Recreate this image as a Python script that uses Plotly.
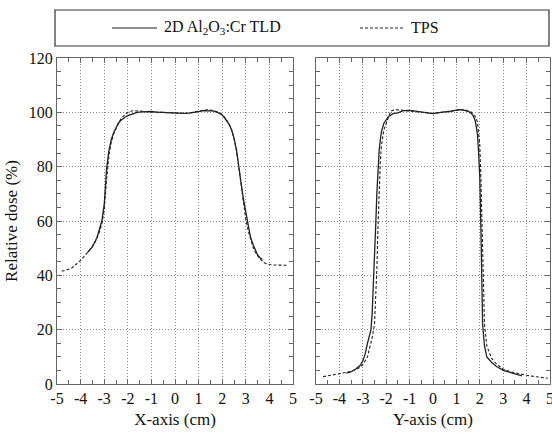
import plotly.graph_objects as go

# ---- data ----
x_tld_x = [-3.7,-3.5,-3.3,-3.1,-3.0,-2.9,-2.8,-2.7,-2.6,-2.5,-2.4,-2.3,-2.2,-2.1,-2.0,-1.8,-1.6,-1.4,-1.2,-1.0,-0.8,-0.6,-0.4,-0.2,0,0.2,0.4,0.6,0.8,1.0,1.2,1.4,1.6,1.8,2.0,2.1,2.2,2.3,2.4,2.5,2.6,2.7,2.8,2.9,3.0,3.1,3.2,3.3,3.4,3.5,3.6,3.7]
dose_tld_x = [48.5,50.5,54,60,66,79,86,90,92.5,94.5,96,97,97.8,98.3,98.8,99.5,100,100.2,100.3,100.3,100.1,100,100,99.9,99.8,99.6,99.6,99.7,99.9,100.3,100.6,100.6,100.5,100,99,98,96.8,95.5,93.5,90.5,86.5,81,74,68,63,58.5,54,51.5,49.5,47.5,46.5,45.8]

x_tps_x = [-4.8,-4.6,-4.4,-4.2,-4.0,-3.8,-3.6,-3.4,-3.2,-3.1,-3.0,-2.9,-2.8,-2.7,-2.6,-2.5,-2.4,-2.3,-2.2,-2.1,-2.0,-1.8,-1.6,-1.4,-1.2,-1.0,-0.8,-0.6,-0.4,-0.2,0,0.2,0.4,0.6,0.8,1.0,1.2,1.4,1.6,1.8,2.0,2.1,2.2,2.3,2.4,2.5,2.6,2.7,2.8,2.9,3.0,3.1,3.2,3.3,3.4,3.6,3.8,4.0,4.2,4.4,4.6,4.8]
dose_tps_x = [41.5,42,42.5,44,45.5,47.5,49.5,52,56,59,64,75,84,89,92,94,96,97.5,98.5,99.3,100,100.6,100.6,100.4,100.3,100.2,100.1,100,99.9,99.8,99.7,99.6,99.6,99.8,100,100.4,100.8,100.9,100.7,100.2,99.3,98.3,97,95.5,93.5,90.5,86,80,73,66,60.5,56.5,53,50.5,48.5,46,44.5,44,43.8,43.7,43.7,43.7]

y_tld_y = [-3.7,-3.5,-3.3,-3.1,-3.0,-2.9,-2.8,-2.7,-2.65,-2.6,-2.55,-2.5,-2.45,-2.4,-2.35,-2.3,-2.25,-2.2,-2.1,-2.0,-1.9,-1.7,-1.5,-1.3,-1.1,-0.9,-0.7,-0.5,-0.3,-0.1,0,0.1,0.3,0.5,0.7,0.9,1.1,1.3,1.5,1.6,1.7,1.8,1.85,1.9,1.95,2.0,2.05,2.08,2.12,2.2,2.3,2.5,2.7,3.0,3.35,3.8]
dose_tld_y = [4,4.5,5.5,7,8.5,11,15,18,20,26,35,45,58,70,80,86,90,93,96,97.5,98.5,99.5,99.8,100.5,100.7,100.6,100.4,100.2,100,99.6,99.5,99.7,100,100.2,100.3,100.6,101,100.8,100.4,99.8,99,97,95,92,85,76,56,40,22,14,10,8,6.5,5,4,3]

y_tps_y = [-4.7,-4.4,-4.1,-3.8,-3.5,-3.2,-3.0,-2.8,-2.7,-2.6,-2.5,-2.45,-2.4,-2.35,-2.3,-2.25,-2.2,-2.1,-2.0,-1.9,-1.8,-1.6,-1.4,-1.2,-1.0,-0.8,-0.6,-0.4,-0.2,0,0.2,0.4,0.6,0.8,1.0,1.2,1.4,1.6,1.7,1.8,1.9,1.95,2.0,2.05,2.1,2.15,2.2,2.3,2.5,2.7,3.0,3.3,3.7,4.0,4.4,4.9]
dose_tps_y = [2.7,3.2,3.6,4,4.6,5.7,7,10,13,17,22,30,42,58,72,82,88,93.5,96,98.5,100.5,101,100.8,100.6,100.4,100.3,100.2,100,99.8,99.6,99.8,100,100.2,100.4,100.7,101,100.8,100.3,99.5,98.5,96.5,93,88,75,55,35,22,14,9.5,7.5,5.5,4.5,3.6,3.2,2.7,2.1]

x_ticks = [-5,-4,-3,-2,-1,0,1,2,3,4,5]
y_ticks = [0,20,40,60,80,100,120]
legend_names = ["2D Al<sub>2</sub>O<sub>3</sub>:Cr TLD", "TPS"]

W, H = 552, 434
FONT = "Liberation Serif"
GRID_DASH = "1px,2px"

fig = go.Figure()
fig.add_trace(go.Scatter(x=x_tld_x, y=dose_tld_x, mode="lines", line=dict(color="#222", width=1.3),
                         xaxis="x", yaxis="y", showlegend=False))
fig.add_trace(go.Scatter(x=x_tps_x, y=dose_tps_x, mode="lines", line=dict(color="#222", width=1.1, dash="3px,2px"),
                         xaxis="x", yaxis="y", showlegend=False))
fig.add_trace(go.Scatter(x=y_tld_y, y=dose_tld_y, mode="lines", line=dict(color="#222", width=1.3),
                         xaxis="x2", yaxis="y2", showlegend=False))
fig.add_trace(go.Scatter(x=y_tps_y, y=dose_tps_y, mode="lines", line=dict(color="#222", width=1.1, dash="3px,2px"),
                         xaxis="x2", yaxis="y2", showlegend=False))

ydom = [50 / H, 376 / H]

def tf(size=16):
    return dict(family=FONT, size=size, color="#111")

def xax(dom, title, anchor):
    return dict(domain=dom, anchor=anchor, range=[-5, 5], tickvals=x_ticks, ticktext=[str(v) for v in x_ticks],
                ticks="inside", ticklen=5, tickcolor="#666", showline=True, linecolor="#666", linewidth=1,
                mirror="ticks", showgrid=True, gridcolor="#888", griddash=GRID_DASH, gridwidth=1,
                zeroline=False, tickfont=tf(16), ticklabeloverflow="allow",
                minor=dict(dtick=0.5, tick0=0, ticks="inside", ticklen=4, tickcolor="#666", showgrid=False),
                title=dict(text=title, font=tf(17), standoff=6),
                automargin=False)

def yax(dom, anchor, labels, title=None):
    d = dict(domain=dom, anchor=anchor, range=[0, 120], tickvals=y_ticks,
             ticktext=[str(v) for v in y_ticks], showticklabels=labels,
             ticks="inside", ticklen=5, tickcolor="#666", showline=True, linecolor="#666", linewidth=1,
             mirror="ticks", showgrid=True, gridcolor="#888", griddash=GRID_DASH, gridwidth=1,
             zeroline=False, tickfont=tf(16), ticklabeloverflow="allow",
             minor=dict(dtick=5, tick0=0, ticks="inside", ticklen=4, tickcolor="#666", showgrid=False),
             automargin=False)
    if title:
        d["title"] = dict(text=title, font=tf(17), standoff=6)
    return d

fig.update_layout(
    width=W, height=H, margin=dict(l=0, r=0, t=0, b=0),
    paper_bgcolor="white", plot_bgcolor="white",
    xaxis=xax([57 / W, 293 / W], "X-axis (cm)", "y"),
    yaxis=yax(ydom, "x", True, "Relative dose (%)"),
    xaxis2=xax([316 / W, 550 / W], "Y-axis (cm)", "y2"),
    yaxis2=yax(ydom, "x2", False),
)

# manual legend box
def px(x): return x / W
def py(y): return 1 - y / H

fig.add_shape(type="rect", xref="paper", yref="paper", x0=px(55), x1=px(549), y0=py(46), y1=py(10),
              line=dict(color="#333", width=1.2), fillcolor="rgba(0,0,0,0)")
fig.add_shape(type="line", xref="paper", yref="paper", x0=px(112), x1=px(157), y0=py(28), y1=py(28),
              line=dict(color="#222", width=1.2))
fig.add_shape(type="line", xref="paper", yref="paper", x0=px(360), x1=px(405), y0=py(28), y1=py(28),
              line=dict(color="#222", width=1.1, dash="3px,2px"))
fig.add_annotation(x=px(162), y=py(28), xref="paper", yref="paper", text=legend_names[0], showarrow=False,
                   xanchor="left", yanchor="middle", font=tf(16))
fig.add_annotation(x=px(409), y=py(28), xref="paper", yref="paper", text=legend_names[1], showarrow=False,
                   xanchor="left", yanchor="middle", font=tf(16))

fig.write_html("out.html", config={"displayModeBar": False},
               post_script="document.body.style.margin='0';document.body.style.padding='0';")
